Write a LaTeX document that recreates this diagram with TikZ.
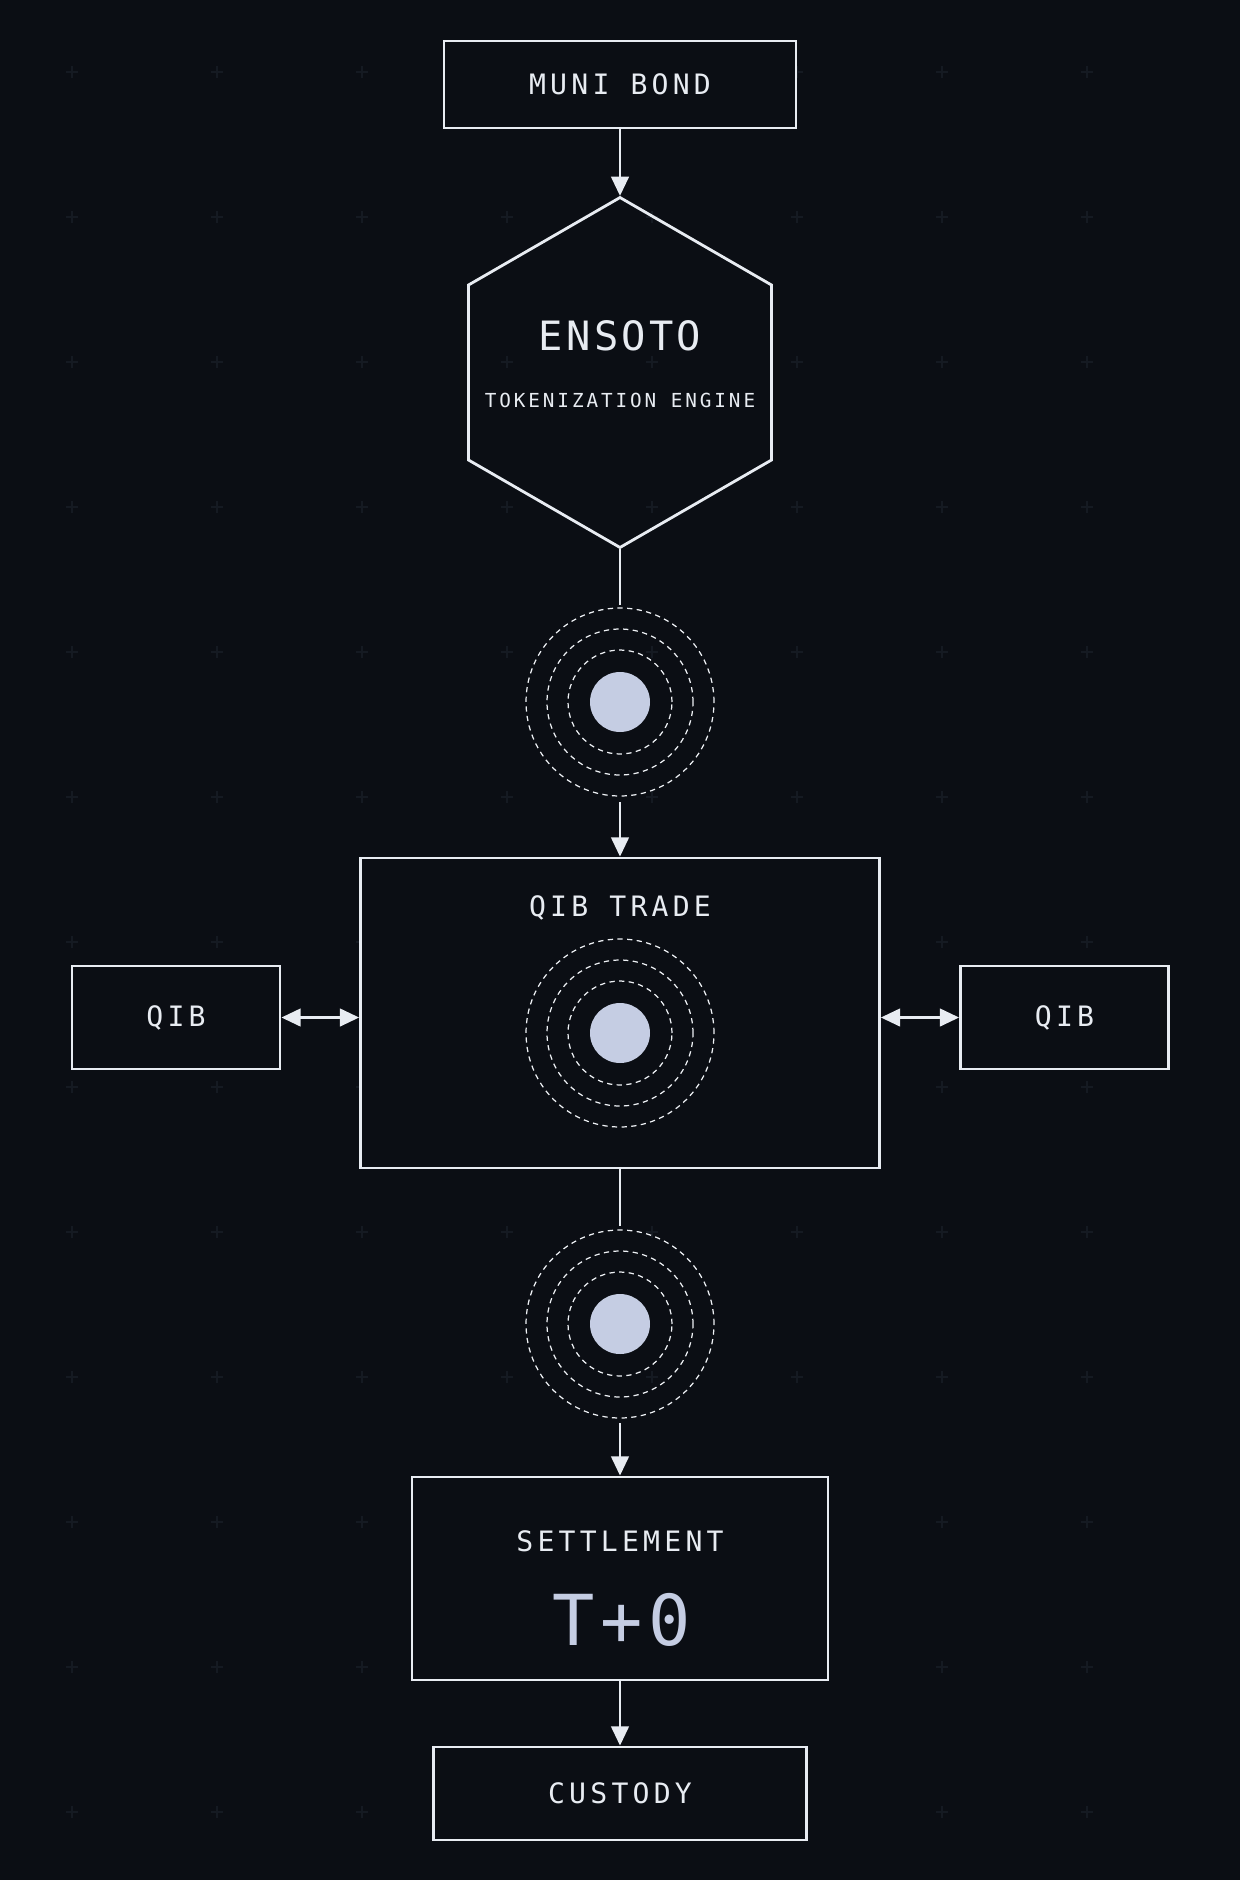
\documentclass[tikz,border=0pt]{standalone}
\usepackage{fontspec}
\newfontfamily\boxfont[LetterSpace=15]{DejaVu Sans Mono}
\newfontfamily\wideboxfont[LetterSpace=8]{DejaVu Sans Mono}
\usetikzlibrary{positioning, shapes.geometric, arrows.meta}
\definecolor{bg}{HTML}{0B0E14}
\definecolor{gridc}{HTML}{151A22}
\definecolor{fg}{HTML}{E8ECF2}
\definecolor{dotc}{HTML}{C5CDE3}
\tikzset{
  box/.style={draw=fg, line width=1.6pt, fill=bg, text=fg, inner sep=0pt, font=\boxfont\fontsize{16}{18}\selectfont},
  tip/.style={Triangle[length=11pt,width=10pt]},
  flow/.style={draw=fg, line width=1.6pt, -{Triangle[length=11pt,width=10pt]}},
  both/.style={draw=fg, line width=1.6pt, {Triangle[length=11pt,width=10pt]}-{Triangle[length=11pt,width=10pt]}},
  ring/.style={draw=fg!75, line width=0.7pt, dash pattern=on 3pt off 2.5pt},
  dot/.style={circle, fill=dotc, minimum size=1.2cm, inner sep=0pt},
}

\begin{document}
\begin{tikzpicture}[x=0.02cm, y=-0.02cm]
        \fill[bg] (0,0) rectangle (1240,1880);
        % faint grid marks
        \foreach \gx in {72,217,...,1200}
          \foreach \gy in {72,217,...,1880}
            \draw[gridc, line width=0.8pt] (\gx-6,\gy) -- (\gx+6,\gy) (\gx,\gy-6) -- (\gx,\gy+6);
        \node[box, minimum width=7.04cm, minimum height=1.74cm] (muni) at (620,84.5) {MUNI BOND};
        \node[draw=fg, line width=1.6pt, regular polygon, regular polygon sides=6, shape border rotate=30, minimum size=7cm, inner sep=0pt] (hex) at (620,372.5) {};
        \node[text=fg, font=\wideboxfont\fontsize{23}{26}\selectfont] (ensoto) at (620,336) {ENSOTO};
        \node[text=fg, font=\boxfont\fontsize{11}{13}\selectfont] (engine) at (620,400) {TOKENIZATION ENGINE};
        \draw[flow] (muni) -- (hex.north);
        % first ring
        \node[dot] (d1) at (620,702) {};
        \foreach \r in {1.88,1.46,1.04} \draw[ring] (d1) circle (\r cm);
        \coordinate (d1in) at (620,605);
        \coordinate (d1out) at (620,802);
        \draw[draw=fg, line width=1.6pt] (hex.south) -- (d1in);
        \node[box, minimum width=10.38cm, minimum height=6.2cm] (trade) at (620,1013) {};
        \draw[flow] (d1out) -- (trade.north);
        \node[text=fg, font=\boxfont\fontsize{16}{18}\selectfont] (tradelbl) at (620,908) {QIB TRADE};
        \node[dot] (d2) at (620,1033) {};
        \foreach \r in {1.88,1.46,1.04} \draw[ring] (d2) circle (\r cm);
        \node[box, minimum width=4.16cm, minimum height=2.06cm] (qibl) at (176,1017.5) {QIB};
        \node[box, minimum width=4.16cm, minimum height=2.06cm] (qibr) at (1064.5,1017.5) {QIB};
        \draw[both] (qibl.east) -- (qibl.east -| trade.west);
        \draw[both] (qibr.west -| trade.east) -- (qibr.west);
        % second ring
        \node[dot] (d3) at (620,1324) {};
        \foreach \r in {1.88,1.46,1.04} \draw[ring] (d3) circle (\r cm);
        \coordinate (d3in) at (620,1226);
        \coordinate (d3out) at (620,1423);
        \draw[draw=fg, line width=1.6pt] (trade.south) -- (d3in);
        \node[box, minimum width=8.32cm, minimum height=4.06cm] (settle) at (620,1578.5) {};
        \draw[flow] (d3out) -- (settle.north);
        \node[text=fg, font=\boxfont\fontsize{16}{18}\selectfont] (settlelbl) at (620,1541) {SETTLEMENT};
        \node[text=dotc, font=\wideboxfont\fontsize{40}{44}\selectfont] (tzero) at (622,1620) {T+0};
        \node[box, minimum width=7.46cm, minimum height=1.86cm] (custody) at (620,1793.5) {CUSTODY};
        \draw[flow] (settle) -- (custody);
    \end{tikzpicture}
\end{document}
